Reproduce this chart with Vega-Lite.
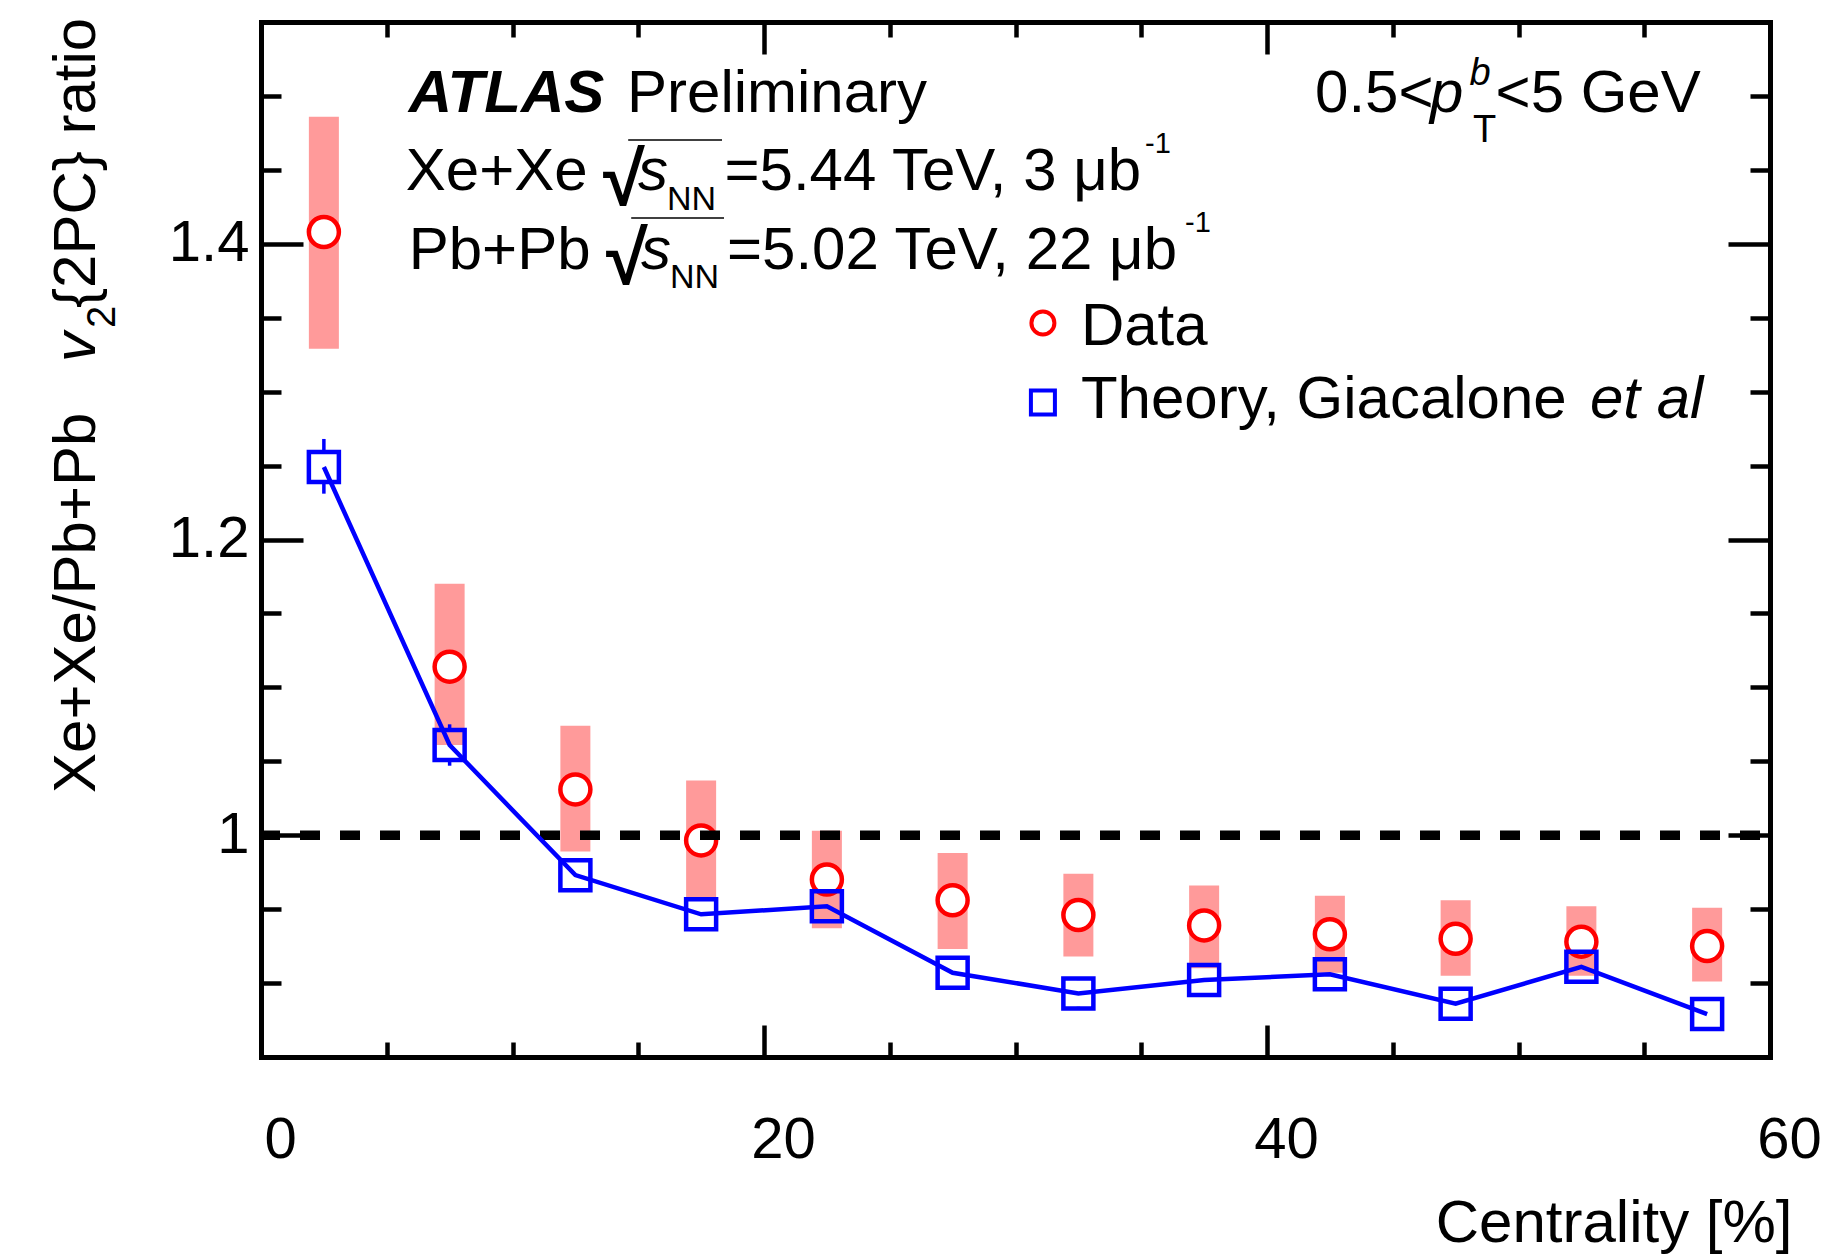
{
  "$schema": "https://vega.github.io/schema/vega-lite/v6.json",
  "width": 1509,
  "height": 1035,
  "autosize": {"type": "none"},
  "padding": {"left": 261, "top": 22, "right": 74, "bottom": 197},
  "background": "white",
  "config": {
    "view": {"stroke": null},
    "font": "Liberation Sans",
    "axis": {"grid": false, "zindex": 1, "domainColor": "black", "tickColor": "black", "labelColor": "black", "titleColor": "black", "labelFont": "Liberation Sans", "titleFont": "Liberation Sans", "domainWidth": 5, "domainCap": "square", "tickWidth": 4.5, "tickCap": "butt"}
  },
  "datasets": {
    "pts": [
      {"cent": 2.5, "ratio": 1.408, "syslo": 1.329, "syshi": 1.486, "theory": 1.249, "thlo": 1.231, "thhi": 1.268},
      {"cent": 7.5, "ratio": 1.114, "syslo": 1.061, "syshi": 1.170, "theory": 1.061, "thlo": 1.047, "thhi": 1.075},
      {"cent": 12.5, "ratio": 1.031, "syslo": 0.989, "syshi": 1.074, "theory": 0.973, "thlo": 0.963, "thhi": 0.983},
      {"cent": 17.5, "ratio": 0.9965, "syslo": 0.958, "syshi": 1.037, "theory": 0.9465, "thlo": 0.9375, "thhi": 0.9555},
      {"cent": 22.5, "ratio": 0.970, "syslo": 0.937, "syshi": 1.003, "theory": 0.952, "thlo": 0.943, "thhi": 0.961},
      {"cent": 27.5, "ratio": 0.956, "syslo": 0.923, "syshi": 0.988, "theory": 0.907, "thlo": 0.898, "thhi": 0.916},
      {"cent": 32.5, "ratio": 0.946, "syslo": 0.918, "syshi": 0.974, "theory": 0.893, "thlo": 0.884, "thhi": 0.902},
      {"cent": 37.5, "ratio": 0.939, "syslo": 0.910, "syshi": 0.966, "theory": 0.902, "thlo": 0.893, "thhi": 0.911},
      {"cent": 42.5, "ratio": 0.933, "syslo": 0.907, "syshi": 0.959, "theory": 0.906, "thlo": 0.897, "thhi": 0.915},
      {"cent": 47.5, "ratio": 0.930, "syslo": 0.905, "syshi": 0.956, "theory": 0.886, "thlo": 0.877, "thhi": 0.895},
      {"cent": 52.5, "ratio": 0.928, "syslo": 0.905, "syshi": 0.952, "theory": 0.911, "thlo": 0.902, "thhi": 0.920},
      {"cent": 57.5, "ratio": 0.925, "syslo": 0.901, "syshi": 0.951, "theory": 0.879, "thlo": 0.870, "thhi": 0.888}
    ],
    "one": [{}]
  },
  "data": {"name": "pts"},
  "resolve": {"axis": {"x": "independent", "y": "independent"}},
  "layer": [
    {
      "mark": {"type": "rule", "stroke": "#ff9a9a", "strokeWidth": 30, "strokeCap": "butt"},
      "encoding": {
        "x": {"field": "cent", "type": "quantitative", "scale": {"domain": [0, 60], "nice": false, "zero": false},
          "axis": {"orient": "bottom", "values": [0, 20, 40, 60], "format": "d", "ticks": false, "domain": true, "labels": true, "labelFontSize": 58, "labelPadding": 100, "labelBaseline": "alphabetic", "labelOffset": 19, "labelFlush": false, "labelOverlap": false,
            "title": "Centrality [%]", "titleFontSize": 60, "titleFontWeight": "normal", "titleAnchor": "end", "titleAlign": "right", "titleBaseline": "alphabetic", "titleX": 1531, "titleY": 184}},
        "y": {"field": "syslo", "type": "quantitative", "scale": {"domain": [0.85, 1.55], "nice": false, "zero": false},
          "axis": {"orient": "left", "values": [1, 1.2, 1.4], "format": "~g", "ticks": false, "domain": true, "labels": true, "labelFontSize": 58, "labelPadding": 12, "labelAlign": "right", "labelBaseline": "middle", "labelFlush": false, "labelOverlap": false, "title": null}},
        "y2": {"field": "syshi"}
      }
    },
    {
      "mark": {"type": "point", "shape": "circle", "size": 900, "filled": true, "fill": "white", "stroke": "#ff0000", "strokeWidth": 4.5, "opacity": 1},
      "encoding": {
        "x": {"field": "cent", "type": "quantitative", "scale": {"domain": [0, 60], "nice": false, "zero": false},
          "axis": {"orient": "bottom", "values": [20, 40], "labels": false, "domain": false, "ticks": true, "tickSize": -32, "title": null}},
        "y": {"field": "ratio", "type": "quantitative", "scale": {"domain": [0.85, 1.55], "nice": false, "zero": false},
          "axis": {"orient": "left", "values": [1, 1.2, 1.4], "labels": false, "domain": false, "ticks": true, "tickSize": -42, "title": null}}
      }
    },
    {
      "data": {"name": "one"},
      "mark": {"type": "rule", "stroke": "black", "strokeWidth": 9.5, "strokeDash": [20, 20], "strokeDashOffset": 30},
      "encoding": {
        "y": {"datum": 1, "type": "quantitative", "scale": {"domain": [0.85, 1.55], "nice": false, "zero": false}, "axis": null}
      }
    },
    {
      "mark": {"type": "line", "stroke": "#0000ff", "strokeWidth": 4.5},
      "encoding": {
        "x": {"field": "cent", "type": "quantitative", "scale": {"domain": [0, 60], "nice": false, "zero": false},
          "axis": {"orient": "bottom", "values": [5, 10, 15, 25, 30, 35, 45, 50, 55], "labels": false, "domain": false, "ticks": true, "tickSize": -15, "title": null}},
        "y": {"field": "theory", "type": "quantitative", "scale": {"domain": [0.85, 1.55], "nice": false, "zero": false},
          "axis": {"orient": "left", "values": [0.9, 0.95, 1.05, 1.1, 1.15, 1.25, 1.3, 1.35, 1.45, 1.5], "labels": false, "domain": false, "ticks": true, "tickSize": -20, "title": null}}
      }
    },
    {
      "mark": {"type": "point", "shape": "square", "size": 900, "filled": false, "stroke": "#0000ff", "strokeWidth": 4.5, "opacity": 1},
      "encoding": {
        "x": {"field": "cent", "type": "quantitative", "scale": {"domain": [0, 60], "nice": false, "zero": false},
          "axis": {"orient": "top", "values": [20, 40], "labels": false, "domain": true, "ticks": true, "tickSize": -32, "title": null}},
        "y": {"field": "theory", "type": "quantitative", "scale": {"domain": [0.85, 1.55], "nice": false, "zero": false},
          "axis": {"orient": "right", "values": [1, 1.2, 1.4], "labels": false, "domain": true, "ticks": true, "tickSize": -42, "title": null}}
      }
    },
    {
      "mark": {"type": "rule", "stroke": "#0000ff", "strokeWidth": 3.5, "y2Offset": -16},
      "encoding": {
        "x": {"field": "cent", "type": "quantitative", "scale": {"domain": [0, 60], "nice": false, "zero": false},
          "axis": {"orient": "top", "values": [5, 10, 15, 25, 30, 35, 45, 50, 55], "labels": false, "domain": false, "ticks": true, "tickSize": -15, "title": null}},
        "y": {"field": "thhi", "type": "quantitative", "scale": {"domain": [0.85, 1.55], "nice": false, "zero": false},
          "axis": {"orient": "right", "values": [0.9, 0.95, 1.05, 1.1, 1.15, 1.25, 1.3, 1.35, 1.45, 1.5], "labels": false, "domain": false, "ticks": true, "tickSize": -20, "title": null}},
        "y2": {"field": "theory"}
      }
    },
    {
      "mark": {"type": "rule", "stroke": "#0000ff", "strokeWidth": 3.5, "y2Offset": 16},
      "encoding": {
        "x": {"field": "cent", "type": "quantitative", "scale": {"domain": [0, 60], "nice": false, "zero": false}, "axis": null},
        "y": {"field": "thlo", "type": "quantitative", "scale": {"domain": [0.85, 1.55], "nice": false, "zero": false}, "axis": null},
        "y2": {"field": "theory"}
      }
    },
    {
      "data": {"name": "one"},
      "mark": {"type": "text", "text": "ATLAS", "font": "Liberation Sans", "fontSize": 60, "fontWeight": "bold", "fontStyle": "italic", "align": "left", "baseline": "alphabetic", "fill": "black"},
      "encoding": {"x": {"datum": 5.873, "type": "quantitative", "scale": {"domain": [0, 60], "nice": false, "zero": false}, "axis": null}, "y": {"datum": 1.4893, "type": "quantitative", "scale": {"domain": [0.85, 1.55], "nice": false, "zero": false}, "axis": null}}
    },
    {
      "data": {"name": "one"},
      "mark": {"type": "text", "text": "Preliminary", "font": "Liberation Sans", "fontSize": 60, "align": "left", "baseline": "alphabetic", "fill": "black"},
      "encoding": {"x": {"datum": 14.553, "type": "quantitative", "scale": {"domain": [0, 60], "nice": false, "zero": false}, "axis": null}, "y": {"datum": 1.4893, "type": "quantitative", "scale": {"domain": [0.85, 1.55], "nice": false, "zero": false}, "axis": null}}
    },
    {
      "data": {"name": "one"},
      "mark": {"type": "text", "text": "Xe+Xe", "font": "Liberation Sans", "fontSize": 60, "align": "left", "baseline": "alphabetic", "fill": "black"},
      "encoding": {"x": {"datum": 5.757, "type": "quantitative", "scale": {"domain": [0, 60], "nice": false, "zero": false}, "axis": null}, "y": {"datum": 1.4364, "type": "quantitative", "scale": {"domain": [0.85, 1.55], "nice": false, "zero": false}, "axis": null}}
    },
    {
      "data": {"name": "one"},
      "mark": {"type": "text", "text": "√", "font": "Liberation Sans", "fontSize": 76, "fontWeight": "bold", "align": "left", "baseline": "alphabetic", "fill": "black"},
      "encoding": {"x": {"datum": 13.6, "type": "quantitative", "scale": {"domain": [0, 60], "nice": false, "zero": false}, "axis": null}, "y": {"datum": 1.4262, "type": "quantitative", "scale": {"domain": [0.85, 1.55], "nice": false, "zero": false}, "axis": null}}
    },
    {
      "data": {"name": "one"},
      "mark": {"type": "rule", "stroke": "black", "strokeWidth": 1.5},
      "encoding": {"x": {"datum": 14.6, "type": "quantitative", "scale": {"domain": [0, 60], "nice": false, "zero": false}, "axis": null}, "x2": {"datum": 18.33}, "y": {"datum": 1.4702, "type": "quantitative", "scale": {"domain": [0.85, 1.55], "nice": false, "zero": false}, "axis": null}}
    },
    {
      "data": {"name": "one"},
      "mark": {"type": "text", "text": "s", "font": "Liberation Sans", "fontSize": 60, "fontStyle": "italic", "align": "left", "baseline": "alphabetic", "fill": "black"},
      "encoding": {"x": {"datum": 14.99, "type": "quantitative", "scale": {"domain": [0, 60], "nice": false, "zero": false}, "axis": null}, "y": {"datum": 1.4364, "type": "quantitative", "scale": {"domain": [0.85, 1.55], "nice": false, "zero": false}, "axis": null}}
    },
    {
      "data": {"name": "one"},
      "mark": {"type": "text", "text": "NN", "font": "Liberation Sans", "fontSize": 34, "align": "left", "baseline": "alphabetic", "fill": "black"},
      "encoding": {"x": {"datum": 16.14, "type": "quantitative", "scale": {"domain": [0, 60], "nice": false, "zero": false}, "axis": null}, "y": {"datum": 1.4229, "type": "quantitative", "scale": {"domain": [0.85, 1.55], "nice": false, "zero": false}, "axis": null}}
    },
    {
      "data": {"name": "one"},
      "mark": {"type": "text", "text": "=5.44 TeV, 3 μb", "font": "Liberation Sans", "fontSize": 60, "align": "left", "baseline": "alphabetic", "fill": "black"},
      "encoding": {"x": {"datum": 18.43, "type": "quantitative", "scale": {"domain": [0, 60], "nice": false, "zero": false}, "axis": null}, "y": {"datum": 1.4364, "type": "quantitative", "scale": {"domain": [0.85, 1.55], "nice": false, "zero": false}, "axis": null}}
    },
    {
      "data": {"name": "one"},
      "mark": {"type": "text", "text": "-1", "font": "Liberation Sans", "fontSize": 29, "align": "left", "baseline": "alphabetic", "fill": "black"},
      "encoding": {"x": {"datum": 35.15, "type": "quantitative", "scale": {"domain": [0, 60], "nice": false, "zero": false}, "axis": null}, "y": {"datum": 1.4614, "type": "quantitative", "scale": {"domain": [0.85, 1.55], "nice": false, "zero": false}, "axis": null}}
    },
    {
      "data": {"name": "one"},
      "mark": {"type": "text", "text": "Pb+Pb", "font": "Liberation Sans", "fontSize": 60, "align": "left", "baseline": "alphabetic", "fill": "black"},
      "encoding": {"x": {"datum": 5.873, "type": "quantitative", "scale": {"domain": [0, 60], "nice": false, "zero": false}, "axis": null}, "y": {"datum": 1.3829, "type": "quantitative", "scale": {"domain": [0.85, 1.55], "nice": false, "zero": false}, "axis": null}}
    },
    {
      "data": {"name": "one"},
      "mark": {"type": "text", "text": "√", "font": "Liberation Sans", "fontSize": 76, "fontWeight": "bold", "align": "left", "baseline": "alphabetic", "fill": "black"},
      "encoding": {"x": {"datum": 13.72, "type": "quantitative", "scale": {"domain": [0, 60], "nice": false, "zero": false}, "axis": null}, "y": {"datum": 1.3728, "type": "quantitative", "scale": {"domain": [0.85, 1.55], "nice": false, "zero": false}, "axis": null}}
    },
    {
      "data": {"name": "one"},
      "mark": {"type": "rule", "stroke": "black", "strokeWidth": 1.5},
      "encoding": {"x": {"datum": 14.72, "type": "quantitative", "scale": {"domain": [0, 60], "nice": false, "zero": false}, "axis": null}, "x2": {"datum": 18.41}, "y": {"datum": 1.4174, "type": "quantitative", "scale": {"domain": [0.85, 1.55], "nice": false, "zero": false}, "axis": null}}
    },
    {
      "data": {"name": "one"},
      "mark": {"type": "text", "text": "s", "font": "Liberation Sans", "fontSize": 60, "fontStyle": "italic", "align": "left", "baseline": "alphabetic", "fill": "black"},
      "encoding": {"x": {"datum": 15.11, "type": "quantitative", "scale": {"domain": [0, 60], "nice": false, "zero": false}, "axis": null}, "y": {"datum": 1.3829, "type": "quantitative", "scale": {"domain": [0.85, 1.55], "nice": false, "zero": false}, "axis": null}}
    },
    {
      "data": {"name": "one"},
      "mark": {"type": "text", "text": "NN", "font": "Liberation Sans", "fontSize": 34, "align": "left", "baseline": "alphabetic", "fill": "black"},
      "encoding": {"x": {"datum": 16.26, "type": "quantitative", "scale": {"domain": [0, 60], "nice": false, "zero": false}, "axis": null}, "y": {"datum": 1.3701, "type": "quantitative", "scale": {"domain": [0.85, 1.55], "nice": false, "zero": false}, "axis": null}}
    },
    {
      "data": {"name": "one"},
      "mark": {"type": "text", "text": "=5.02 TeV, 22 μb", "font": "Liberation Sans", "fontSize": 60, "align": "left", "baseline": "alphabetic", "fill": "black"},
      "encoding": {"x": {"datum": 18.53, "type": "quantitative", "scale": {"domain": [0, 60], "nice": false, "zero": false}, "axis": null}, "y": {"datum": 1.3829, "type": "quantitative", "scale": {"domain": [0.85, 1.55], "nice": false, "zero": false}, "axis": null}}
    },
    {
      "data": {"name": "one"},
      "mark": {"type": "text", "text": "-1", "font": "Liberation Sans", "fontSize": 29, "align": "left", "baseline": "alphabetic", "fill": "black"},
      "encoding": {"x": {"datum": 36.74, "type": "quantitative", "scale": {"domain": [0, 60], "nice": false, "zero": false}, "axis": null}, "y": {"datum": 1.4082, "type": "quantitative", "scale": {"domain": [0.85, 1.55], "nice": false, "zero": false}, "axis": null}}
    },
    {
      "data": {"name": "one"},
      "mark": {"type": "point", "shape": "circle", "size": 529, "filled": true, "fill": "white", "stroke": "#ff0000", "strokeWidth": 4, "opacity": 1},
      "encoding": {"x": {"datum": 31.09, "type": "quantitative", "scale": {"domain": [0, 60], "nice": false, "zero": false}, "axis": null}, "y": {"datum": 1.3464, "type": "quantitative", "scale": {"domain": [0.85, 1.55], "nice": false, "zero": false}, "axis": null}}
    },
    {
      "data": {"name": "one"},
      "mark": {"type": "text", "text": "Data", "font": "Liberation Sans", "fontSize": 60, "align": "left", "baseline": "alphabetic", "fill": "black"},
      "encoding": {"x": {"datum": 32.6, "type": "quantitative", "scale": {"domain": [0, 60], "nice": false, "zero": false}, "axis": null}, "y": {"datum": 1.3315, "type": "quantitative", "scale": {"domain": [0.85, 1.55], "nice": false, "zero": false}, "axis": null}}
    },
    {
      "data": {"name": "one"},
      "mark": {"type": "point", "shape": "square", "size": 576, "filled": false, "stroke": "#0000ff", "strokeWidth": 4, "opacity": 1},
      "encoding": {"x": {"datum": 31.09, "type": "quantitative", "scale": {"domain": [0, 60], "nice": false, "zero": false}, "axis": null}, "y": {"datum": 1.2927, "type": "quantitative", "scale": {"domain": [0.85, 1.55], "nice": false, "zero": false}, "axis": null}}
    },
    {
      "data": {"name": "one"},
      "mark": {"type": "text", "text": "Theory, Giacalone", "font": "Liberation Sans", "fontSize": 60, "align": "left", "baseline": "alphabetic", "fill": "black"},
      "encoding": {"x": {"datum": 32.6, "type": "quantitative", "scale": {"domain": [0, 60], "nice": false, "zero": false}, "axis": null}, "y": {"datum": 1.2822, "type": "quantitative", "scale": {"domain": [0.85, 1.55], "nice": false, "zero": false}, "axis": null}}
    },
    {
      "data": {"name": "one"},
      "mark": {"type": "text", "text": "et al", "font": "Liberation Sans", "fontSize": 60, "fontStyle": "italic", "align": "left", "baseline": "alphabetic", "fill": "black"},
      "encoding": {"x": {"datum": 52.84, "type": "quantitative", "scale": {"domain": [0, 60], "nice": false, "zero": false}, "axis": null}, "y": {"datum": 1.2822, "type": "quantitative", "scale": {"domain": [0.85, 1.55], "nice": false, "zero": false}, "axis": null}}
    },
    {
      "data": {"name": "one"},
      "mark": {"type": "text", "text": "0.5<", "font": "Liberation Sans", "fontSize": 60, "align": "left", "baseline": "alphabetic", "fill": "black"},
      "encoding": {"x": {"datum": 41.91, "type": "quantitative", "scale": {"domain": [0, 60], "nice": false, "zero": false}, "axis": null}, "y": {"datum": 1.4893, "type": "quantitative", "scale": {"domain": [0.85, 1.55], "nice": false, "zero": false}, "axis": null}}
    },
    {
      "data": {"name": "one"},
      "mark": {"type": "text", "text": "p", "font": "Liberation Sans", "fontSize": 60, "fontStyle": "italic", "align": "left", "baseline": "alphabetic", "fill": "black"},
      "encoding": {"x": {"datum": 46.48, "type": "quantitative", "scale": {"domain": [0, 60], "nice": false, "zero": false}, "axis": null}, "y": {"datum": 1.4893, "type": "quantitative", "scale": {"domain": [0.85, 1.55], "nice": false, "zero": false}, "axis": null}}
    },
    {
      "data": {"name": "one"},
      "mark": {"type": "text", "text": "b", "font": "Liberation Sans", "fontSize": 38, "fontStyle": "italic", "align": "left", "baseline": "alphabetic", "fill": "black"},
      "encoding": {"x": {"datum": 48.05, "type": "quantitative", "scale": {"domain": [0, 60], "nice": false, "zero": false}, "axis": null}, "y": {"datum": 1.5074, "type": "quantitative", "scale": {"domain": [0.85, 1.55], "nice": false, "zero": false}, "axis": null}}
    },
    {
      "data": {"name": "one"},
      "mark": {"type": "text", "text": "T", "font": "Liberation Sans", "fontSize": 38, "align": "left", "baseline": "alphabetic", "fill": "black"},
      "encoding": {"x": {"datum": 48.19, "type": "quantitative", "scale": {"domain": [0, 60], "nice": false, "zero": false}, "axis": null}, "y": {"datum": 1.469, "type": "quantitative", "scale": {"domain": [0.85, 1.55], "nice": false, "zero": false}, "axis": null}}
    },
    {
      "data": {"name": "one"},
      "mark": {"type": "text", "text": "<5 GeV", "font": "Liberation Sans", "fontSize": 60, "align": "left", "baseline": "alphabetic", "fill": "black"},
      "encoding": {"x": {"datum": 49.09, "type": "quantitative", "scale": {"domain": [0, 60], "nice": false, "zero": false}, "axis": null}, "y": {"datum": 1.4893, "type": "quantitative", "scale": {"domain": [0.85, 1.55], "nice": false, "zero": false}, "axis": null}}
    },
    {
      "data": {"name": "one"},
      "mark": {"type": "text", "text": "Xe+Xe/Pb+Pb", "font": "Liberation Sans", "fontSize": 60, "angle": 270, "align": "left", "baseline": "alphabetic", "fill": "black"},
      "encoding": {"x": {"datum": -6.6, "type": "quantitative", "scale": {"domain": [0, 60], "nice": false, "zero": false}, "axis": null}, "y": {"datum": 1.0286, "type": "quantitative", "scale": {"domain": [0.85, 1.55], "nice": false, "zero": false}, "axis": null}}
    },
    {
      "data": {"name": "one"},
      "mark": {"type": "text", "text": "v", "font": "Liberation Sans", "fontSize": 60, "fontStyle": "italic", "angle": 270, "align": "left", "baseline": "alphabetic", "fill": "black"},
      "encoding": {"x": {"datum": -6.6, "type": "quantitative", "scale": {"domain": [0, 60], "nice": false, "zero": false}, "axis": null}, "y": {"datum": 1.32, "type": "quantitative", "scale": {"domain": [0.85, 1.55], "nice": false, "zero": false}, "axis": null}}
    },
    {
      "data": {"name": "one"},
      "mark": {"type": "text", "text": "2", "font": "Liberation Sans", "fontSize": 40, "angle": 270, "align": "left", "baseline": "alphabetic", "fill": "black"},
      "encoding": {"x": {"datum": -5.82, "type": "quantitative", "scale": {"domain": [0, 60], "nice": false, "zero": false}, "axis": null}, "y": {"datum": 1.343, "type": "quantitative", "scale": {"domain": [0.85, 1.55], "nice": false, "zero": false}, "axis": null}}
    },
    {
      "data": {"name": "one"},
      "mark": {"type": "text", "text": "{2PC} ratio", "font": "Liberation Sans", "fontSize": 60, "angle": 270, "align": "left", "baseline": "alphabetic", "fill": "black"},
      "encoding": {"x": {"datum": -6.6, "type": "quantitative", "scale": {"domain": [0, 60], "nice": false, "zero": false}, "axis": null}, "y": {"datum": 1.3566, "type": "quantitative", "scale": {"domain": [0.85, 1.55], "nice": false, "zero": false}, "axis": null}}
    }
  ]
}
